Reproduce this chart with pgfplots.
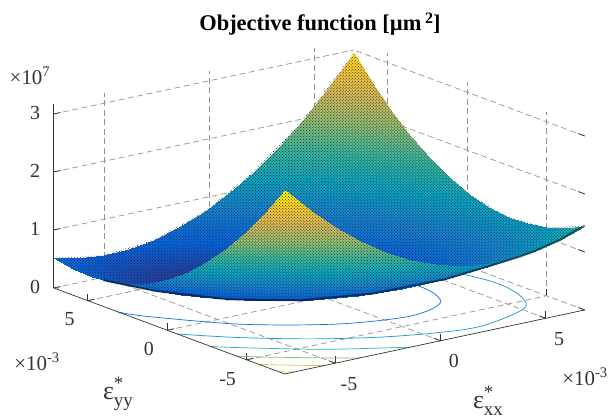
\documentclass[border=0pt]{standalone}
\usepackage{fontspec}
\setmainfont{Liberation Serif}
\usepackage{pgfplots}
\pgfplotsset{compat=1.18}
\usetikzlibrary{patterns}
\definecolor{cA}{RGB}{15,110,225}
\definecolor{cB}{RGB}{25,150,215}
\definecolor{cC}{RGB}{40,185,170}
\definecolor{cD}{RGB}{130,190,115}
\definecolor{cE}{RGB}{240,185,60}
\definecolor{cF}{RGB}{250,215,40}
\newcommand{\eps}[1]{{\fontsize{26}{26}\selectfont ε}\rlap{\raisebox{10bp}{\fontsize{19}{19}\selectfont *}}\raisebox{-7bp}{\fontsize{19}{19}\selectfont #1}}
\begin{document}
\begin{tikzpicture}
\useasboundingbox (0,0) rectangle (611bp,419bp);
\begin{axis}[
  at={(323bp,122bp)},anchor=origin,
  x={(2.105bp,.449bp)},y={(-1.588bp,.591bp)},z={(0bp,5.8bp)},
  xmin=-74,xmax=68.5,ymin=-74,ymax=71.5,zmin=0,zmax=31.7,
  xtick={-50,0,50},ytick={-50,0,50},ztick={0,10,20,30},
  xticklabels={-5,0,5},yticklabels={-5,0,5},zticklabels={0,1,2,3},
  tickpos=left,
  grid=major,
  grid style={dash pattern=on 6bp off 3.5bp,gray!85,line width=0.7bp},
  axis line style={draw=none},
  tick style={black!80,line width=0.7bp},
  tick align=inside,major tick length=7bp,
  clip=false,
  tick label style={font=\fontsize{20}{20}\selectfont,text=black!80},
  xticklabel style={xshift=6bp,yshift=-10bp},
  yticklabel style={xshift=-10bp,yshift=-8bp},
  zticklabel style={xshift=-10bp},
  colormap={parula}{rgb255=(53,42,135) rgb255=(3,99,225) rgb255=(20,130,212) rgb255=(6,167,198) rgb255=(56,185,158) rgb255=(146,191,115) rgb255=(217,186,88) rgb255=(252,206,46) rgb255=(249,251,14)},
  point meta min=0,point meta max=31.7,
  title={\bfseries Objective function [µm\,\raisebox{7bp}{\fontsize{16}{16}\selectfont 2}]},
  title style={at={(axis cs:0,0,0)},anchor=center,xshift=-3bp,yshift=267bp,font=\fontsize{22.5}{22.5}\selectfont\bfseries},
  xlabel={\eps{xx}},ylabel={\eps{yy}},
  every axis x label/.style={at={(axis cs:0,0,0)},anchor=center,xshift=165bp,yshift=-104bp,text=black!80},
  every axis y label/.style={at={(axis cs:0,0,0)},anchor=center,xshift=-205bp,yshift=-97bp,text=black!80},
]
\addplot3[cA,line width=0.7bp,smooth,no marks] coordinates {(-74,30.8,0)(-69,19.7,0)(-46.8,-10.5,0)(-17.4,-32.5,0)(11.2,-40.6,0)(31.4,-32.5,0)(37.8,-10.5,0)(28.6,19.7,0)(6.4,49.9,0)(-23,71.5,0)};
\addplot3[cA,line width=0.7bp,no marks] coordinates {(-74,69.1,0)(-71.8,71.5,0)};
\addplot3[cB,line width=0.7bp,smooth,no marks] coordinates {(-74,-6.4,0)(-58.7,-23.9,0)(-38,-42,0)(-16.2,-55.8,0)(5.4,-64.6,0)(25.2,-67.5,0)(54.5,-55.8,0)(63.7,-23.9,0)(50.4,19.7,0)(18.3,63.3,0)(9.6,71.5,0)};
\addplot3[cC,line width=0.7bp,smooth,no marks] coordinates {(-74,-27.4,0)(-67.6,-34.1,0)(-42.2,-56.4,0)(-14.2,-74,0)};
\addplot3[cC,line width=0.7bp,smooth,no marks] coordinates {(68.5,16.6,0)(49.5,47.55,0)(29.2,71.5,0)};
\addplot3[cD,line width=0.7bp,smooth,no marks] coordinates {(-74,-43.8,0)(-65.7,-51.8,0)(-45.7,-68.5,0)(-38,-74,0)};
\addplot3[cD,line width=0.7bp,smooth,no marks] coordinates {(68.5,40.6,0)(57.5,56.2,0)(44.7,71.5,0)};
\addplot3[cE,line width=0.7bp,smooth,no marks] coordinates {(-74,-57.8,0)(-65,-66,0)(-55.3,-74,0)};
\addplot3[cE,line width=0.7bp,no marks] coordinates {(68.5,58.2,0)(57.9,71.5,0)};
\addplot3[cF,line width=0.7bp,smooth,no marks] coordinates {(-74,-70,0)(-72,-72,0)(-69.6,-74,0)};
\addplot3[surf,mesh/rows=13,shader=interp,point meta=z] coordinates {
(-74,-74,31.69)(-62.125,-74,27.28)(-50.25,-74,23.42)(-38.375,-74,20.09)(-26.5,-74,17.31)(-14.625,-74,15.07)(-2.75,-74,13.37)(9.125,-74,12.21)(21,-74,11.59)(32.875,-74,11.52)(44.75,-74,11.98)(56.625,-74,12.99)(68.5,-74,14.54)
(-74,-61.875,26.6)(-62.125,-61.875,22.48)(-50.25,-61.875,18.91)(-38.375,-61.875,15.87)(-26.5,-61.875,13.37)(-14.625,-61.875,11.42)(-2.75,-61.875,10.01)(9.125,-61.875,9.14)(21,-61.875,8.81)(32.875,-61.875,9.02)(44.75,-61.875,9.78)(56.625,-61.875,11.07)(68.5,-61.875,12.91)
(-74,-49.75,22.04)(-62.125,-49.75,18.21)(-50.25,-49.75,14.92)(-38.375,-49.75,12.17)(-26.5,-49.75,9.96)(-14.625,-49.75,8.3)(-2.75,-49.75,7.17)(9.125,-49.75,6.59)(21,-49.75,6.55)(32.875,-49.75,7.05)(44.75,-49.75,8.09)(56.625,-49.75,9.67)(68.5,-49.75,11.8)
(-74,-37.625,18)(-62.125,-37.625,14.45)(-50.25,-37.625,11.45)(-38.375,-37.625,8.99)(-26.5,-37.625,7.07)(-14.625,-37.625,5.69)(-2.75,-37.625,4.86)(9.125,-37.625,4.56)(21,-37.625,4.81)(32.875,-37.625,5.6)(44.75,-37.625,6.93)(56.625,-37.625,8.8)(68.5,-37.625,11.21)
(-74,-25.5,14.48)(-62.125,-25.5,11.22)(-50.25,-25.5,8.51)(-38.375,-25.5,6.34)(-26.5,-25.5,4.71)(-14.625,-25.5,3.62)(-2.75,-25.5,3.07)(9.125,-25.5,3.06)(21,-25.5,3.6)(32.875,-25.5,4.67)(44.75,-25.5,6.29)(56.625,-25.5,8.45)(68.5,-25.5,11.15)
(-74,-13.375,11.48)(-62.125,-13.375,8.52)(-50.25,-13.375,6.09)(-38.375,-13.375,4.21)(-26.5,-13.375,2.86)(-14.625,-13.375,2.06)(-2.75,-13.375,1.8)(9.125,-13.375,2.08)(21,-13.375,2.9)(32.875,-13.375,4.27)(44.75,-13.375,6.17)(56.625,-13.375,8.62)(68.5,-13.375,11.61)
(-74,-1.25,9.01)(-62.125,-1.25,6.33)(-50.25,-1.25,4.19)(-38.375,-1.25,2.6)(-26.5,-1.25,1.54)(-14.625,-1.25,1.03)(-2.75,-1.25,1.06)(9.125,-1.25,1.63)(21,-1.25,2.74)(32.875,-1.25,4.39)(44.75,-1.25,6.58)(56.625,-1.25,9.32)(68.5,-1.25,12.6)
(-74,10.875,7.06)(-62.125,10.875,4.67)(-50.25,10.875,2.82)(-38.375,10.875,1.51)(-26.5,10.875,.75)(-14.625,10.875,.52)(-2.75,10.875,.84)(9.125,10.875,1.69)(21,10.875,3.09)(32.875,10.875,5.03)(44.75,10.875,7.51)(56.625,10.875,10.54)(68.5,10.875,14.1)
(-74,23,5.64)(-62.125,23,3.54)(-50.25,23,1.97)(-38.375,23,.95)(-26.5,23,.47)(-14.625,23,.54)(-2.75,23,1.14)(9.125,23,2.29)(21,23,3.97)(32.875,23,6.2)(44.75,23,8.97)(56.625,23,12.28)(68.5,23,16.13)
(-74,35.125,4.74)(-62.125,35.125,2.92)(-50.25,35.125,1.65)(-38.375,35.125,.91)(-26.5,35.125,.72)(-14.625,35.125,1.07)(-2.75,35.125,1.97)(9.125,35.125,3.4)(21,35.125,5.37)(32.875,35.125,7.89)(44.75,35.125,10.95)(56.625,35.125,14.55)(68.5,35.125,18.69)
(-74,47.25,4.36)(-62.125,47.25,2.83)(-50.25,47.25,1.85)(-38.375,47.25,1.4)(-26.5,47.25,1.5)(-14.625,47.25,2.14)(-2.75,47.25,3.32)(9.125,47.25,5.04)(21,47.25,7.3)(32.875,47.25,10.1)(44.75,47.25,13.45)(56.625,47.25,17.34)(68.5,47.25,21.77)
(-74,59.375,4.51)(-62.125,59.375,3.27)(-50.25,59.375,2.57)(-38.375,59.375,2.41)(-26.5,59.375,2.8)(-14.625,59.375,3.72)(-2.75,59.375,5.19)(9.125,59.375,7.2)(21,59.375,9.75)(32.875,59.375,12.84)(44.75,59.375,16.47)(56.625,59.375,20.65)(68.5,59.375,25.37)
(-74,71.5,5.17)(-62.125,71.5,4.22)(-50.25,71.5,3.81)(-38.375,71.5,3.94)(-26.5,71.5,4.62)(-14.625,71.5,5.83)(-2.75,71.5,7.59)(9.125,71.5,9.88)(21,71.5,12.72)(32.875,71.5,16.1)(44.75,71.5,20.02)(56.625,71.5,24.49)(68.5,71.5,29.49)};
\addplot3[draw=none,pattern=crosshatch dots,pattern color=black!85,no marks] coordinates {
(-74,71.5,5.17)(-74,59.375,4.51)(-74,47.25,4.36)(-74,40.1,4.52)
(-60,26.53,3)(-40,7.21,1.95)(-20,-12.11,2.21)(0,-31.43,3.8)(20,-50.75,6.7)(40,-70.07,10.92)(44.1,-74,11.94)
(56.625,-74,12.99)(68.5,-74,14.54)
(68.5,-49.75,11.8)(68.5,-25.5,11.15)(68.5,-1.25,12.6)(68.5,23,16.13)(68.5,47.25,21.77)(68.5,71.5,29.49)
(44.75,71.5,20.02)(21,71.5,12.72)(-2.75,71.5,7.59)(-26.5,71.5,4.62)(-50.25,71.5,3.81)} --cycle;
\addplot3[black,opacity=.5,line width=2bp,no marks] coordinates {(-74,40.1,4.52)(-60,26.53,3)(-40,7.21,1.95)(-20,-12.11,2.21)(0,-31.43,3.8)(20,-50.75,6.7)(40,-70.07,10.92)(44.1,-74,11.94)(56.625,-74,12.99)(68.5,-74,14.54)};
\addplot3[black!80,line width=0.7bp,no marks] coordinates {(-74,71.5,0)(-74,-74,0)(68.5,-74,0)};
\addplot3[black!80,line width=0.7bp,no marks] coordinates {(-74,71.5,0)(-74,71.5,31.7)};
\end{axis}
\node[font=\fontsize{21}{21}\selectfont,text=black!80] at (30bp,343bp) {×10\textsuperscript{7}};
\node[font=\fontsize{21}{21}\selectfont,text=black!80] at (37bp,57bp) {×10\textsuperscript{-3}};
\node[font=\fontsize{21}{21}\selectfont,text=black!80] at (585bp,42bp) {×10\textsuperscript{-3}};
\end{tikzpicture}
\end{document}
